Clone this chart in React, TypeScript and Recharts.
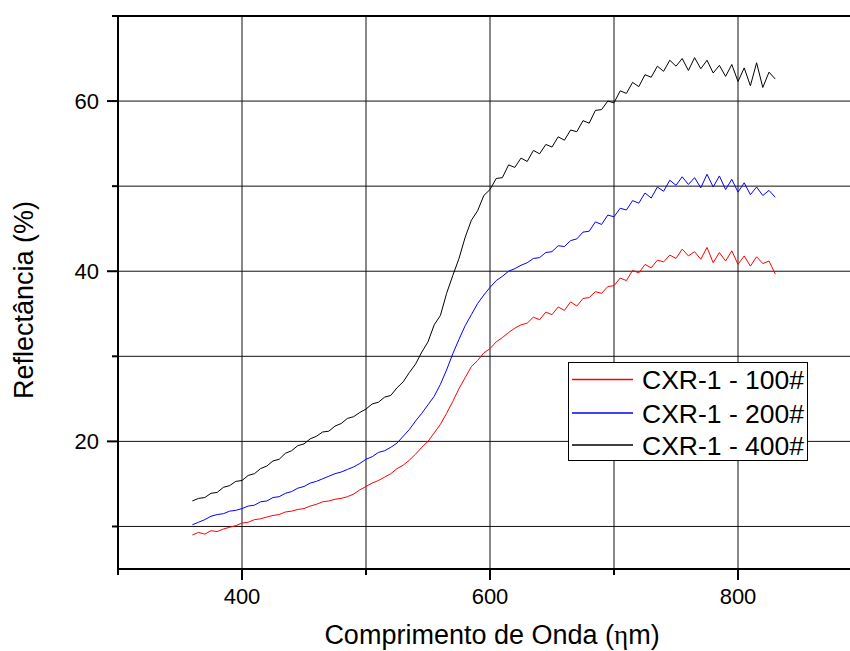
import { CartesianGrid, Legend, Line, LineChart, ReferenceLine, XAxis, YAxis } from "recharts";

const FONT = '"Liberation Sans", Arial, sans-serif';

// wavelength (nm)
const wavelengths = [
  360, 365, 370, 375, 380, 385, 390, 395, 400, 405,
  410, 415, 420, 425, 430, 435, 440, 445, 450, 455,
  460, 465, 470, 475, 480, 485, 490, 495, 500, 505,
  510, 515, 520, 525, 530, 535, 540, 545, 550, 555,
  560, 565, 570, 575, 580, 585, 590, 595, 600, 605,
  610, 615, 620, 625, 630, 635, 640, 645, 650, 655,
  660, 665, 670, 675, 680, 685, 690, 695, 700, 705,
  710, 715, 720, 725, 730, 735, 740, 745, 750, 755,
  760, 765, 770, 775, 780, 785, 790, 795, 800, 805,
  810, 815, 820, 825, 830,
];

// reflectance (%) CXR-1 - 100#
const cxr100 = [
  9.0, 9.3, 9.1, 9.5, 9.4, 9.7, 9.9, 10.1, 10.4, 10.5,
  10.8, 10.9, 11.1, 11.3, 11.4, 11.7, 11.8, 12.0, 12.1, 12.4,
  12.6, 12.9, 13.0, 13.2, 13.3, 13.5, 13.8, 14.3, 14.7, 15.1,
  15.4, 15.8, 16.2, 16.8, 17.2, 17.8, 18.5, 19.3, 20.0, 21.0,
  22.0, 23.3, 24.7, 26.2, 27.5, 28.8, 29.5, 30.4, 30.9, 31.7,
  32.2, 32.8, 33.3, 33.7, 33.9, 34.6, 34.3, 35.2, 34.9, 35.8,
  35.4, 36.4, 35.9, 36.8, 36.9, 37.6, 37.4, 38.2, 38.3, 39.2,
  38.9, 40.1, 39.8, 40.8, 40.4, 41.3, 41.1, 41.9, 41.5, 42.6,
  41.8, 42.3, 41.4, 42.8, 41.0, 42.2, 41.2, 42.4, 40.8, 41.8,
  40.6, 41.7, 40.9, 41.2, 39.7,
];

// reflectance (%) CXR-1 - 200#
const cxr200 = [
  10.2, 10.5, 10.8, 11.2, 11.4, 11.5, 11.8, 11.9, 12.1, 12.4,
  12.5, 12.9, 13.0, 13.4, 13.5, 13.9, 14.1, 14.5, 14.7, 15.1,
  15.3, 15.6, 15.9, 16.2, 16.4, 16.7, 17.0, 17.4, 17.9, 18.2,
  18.7, 18.9, 19.3, 19.8, 20.6, 21.4, 22.4, 23.3, 24.3, 25.3,
  26.7, 28.4, 30.3, 32.0, 33.6, 34.9, 36.2, 37.2, 38.1, 38.9,
  39.4, 40.0, 40.3, 40.7, 41.0, 41.5, 41.6, 42.2, 42.3, 43.0,
  42.9, 43.6, 43.8, 44.6, 44.7, 45.8, 45.5, 46.6, 46.4, 47.4,
  47.2, 48.3, 48.0, 49.2, 48.6, 49.9, 49.4, 50.7, 50.1, 51.1,
  50.2, 51.0, 49.8, 51.4, 49.9, 51.2, 49.6, 50.8, 49.3, 50.4,
  49.0, 49.9, 48.9, 49.5, 48.7,
];

// reflectance (%) CXR-1 - 400#
const cxr400 = [
  13.0, 13.3, 13.4, 13.9, 14.0, 14.6, 14.8, 15.3, 15.4, 16.0,
  16.2, 16.8, 17.1, 17.7, 17.9, 18.6, 18.9, 19.5, 19.7, 20.3,
  20.6, 21.1, 21.2, 21.8, 22.1, 22.7, 22.9, 23.4, 23.8, 24.4,
  24.6, 25.2, 25.4, 26.3, 27.0, 28.1, 29.1, 30.5, 31.7, 33.7,
  34.8, 37.4, 39.5, 41.5, 44.0, 46.0, 47.1, 48.9, 49.6, 50.9,
  51.0, 52.5, 52.2, 53.3, 52.9, 54.2, 53.8, 54.9, 54.6, 55.8,
  55.4, 56.6, 56.4, 57.7, 57.4, 58.9, 59.0, 60.0, 59.8, 61.2,
  60.9, 62.2, 61.7, 63.1, 62.8, 64.1, 63.5, 64.8, 64.1, 65.0,
  63.6, 65.1, 63.8, 64.8, 63.3, 64.2, 62.9, 64.3, 62.3, 63.9,
  61.8, 64.5, 61.6, 63.4, 62.6,
];

const xTicks = [300, 400, 500, 600, 700, 800, 900];
const xLabelled = [400, 600, 800];
const yTicks = [10, 20, 30, 40, 50, 60, 70];
const yLabelled = [20, 40, 60];

const series = [
  { key: "cxr100", name: "CXR-1 - 100#", color: "#ff0000" },
  { key: "cxr200", name: "CXR-1 - 200#", color: "#0000ff" },
  { key: "cxr400", name: "CXR-1 - 400#", color: "#000000" },
];

const data = wavelengths.map((nm, i) => ({
  nm,
  cxr100: cxr100[i],
  cxr200: cxr200[i],
  cxr400: cxr400[i],
}));

function XTick({ x, y, payload }: any) {
  const major = xLabelled.includes(payload.value);
  return (
    <g>
      <line x1={x} x2={x} y1={y} y2={y + (major ? 11 : 6)} stroke="#000" strokeWidth={2} />
      {major && (
        <text x={x} y={y + 35} textAnchor="middle" fontSize={22} fontFamily={FONT} fill="#000">
          {payload.value}
        </text>
      )}
    </g>
  );
}

function YTick({ x, y, payload }: any) {
  const major = yLabelled.includes(payload.value);
  return (
    <g>
      <line x1={x - (major ? 11 : 6)} x2={x} y1={y} y2={y} stroke="#000" strokeWidth={2} />
      {major && (
        <text x={x - 19} y={y + 8} textAnchor="end" fontSize={22} fontFamily={FONT} fill="#000">
          {payload.value}
        </text>
      )}
    </g>
  );
}

function LegendBox() {
  return (
    <svg width={240} height={99} style={{ display: "block" }}>
      <rect x={0.5} y={0.5} width={239} height={98} fill="#fff" stroke="#000" strokeWidth={1} />
      {series.map((s, i) => {
        const cy = [17.5, 51, 83][i];
        return (
          <g key={s.key}>
            <line x1={4} x2={65} y1={cy} y2={cy} stroke={s.color} strokeWidth={1.5} />
            <text x={74} y={cy + 9.5} fontSize={26.5} fontFamily={FONT} fill="#000">
              {s.name}
            </text>
          </g>
        );
      })}
    </svg>
  );
}

export default function App() {
  return (
    <div
      style={{
        position: "absolute",
        left: 0,
        top: 0,
        width: 850,
        height: 651,
        overflow: "hidden",
        background: "#fff",
      }}
    >
      <LineChart width={908} height={651} data={data} margin={{ top: 16, right: 46, bottom: 0, left: 0 }}>
        <CartesianGrid stroke="#111" strokeWidth={1} horizontalValues={yTicks} verticalValues={xTicks} />
        <XAxis
          dataKey="nm"
          type="number"
          domain={[300, 900]}
          ticks={xTicks}
          interval={0}
          height={82}
          tickSize={0}
          tickMargin={0}
          tickLine={false}
          tick={<XTick />}
          axisLine={{ stroke: "#000", strokeWidth: 2 }}
          label={(p: any) => (
            <text
              x={p.viewBox.x + p.viewBox.width / 2 + 2}
              y={p.viewBox.y + 75}
              textAnchor="middle"
              fontSize={27}
              fontFamily={FONT}
              fill="#000"
            >
              Comprimento de Onda (<tspan fontFamily='"Liberation Serif", serif'>η</tspan>m)
            </text>
          )}
        />
        <YAxis
          type="number"
          domain={[5, 70]}
          ticks={yTicks}
          interval={0}
          width={118}
          tickSize={0}
          tickMargin={0}
          tickLine={false}
          tick={<YTick />}
          axisLine={{ stroke: "#000", strokeWidth: 2 }}
          label={(p: any) => {
            const cx = 33;
            const cy = p.viewBox.y + p.viewBox.height / 2 + 7.5;
            return (
              <text
                x={cx}
                y={cy}
                transform={`rotate(-90, ${cx}, ${cy})`}
                textAnchor="middle"
                fontSize={27}
                fontFamily={FONT}
                fill="#000"
              >
                Reflectância (%)
              </text>
            );
          }}
        />
        <ReferenceLine y={70} stroke="#000" strokeWidth={2} />
        {series.map((s) => (
          <Line
            key={s.key}
            type="linear"
            dataKey={s.key}
            name={s.name}
            stroke={s.color}
            strokeWidth={1}
            dot={false}
            isAnimationActive={false}
          />
        ))}
        <Legend
          layout="vertical"
          align="center"
          verticalAlign="middle"
          content={() => <LegendBox />}
          wrapperStyle={{ left: 568, top: 362, width: 240, height: 99 }}
        />
      </LineChart>
    </div>
  );
}
